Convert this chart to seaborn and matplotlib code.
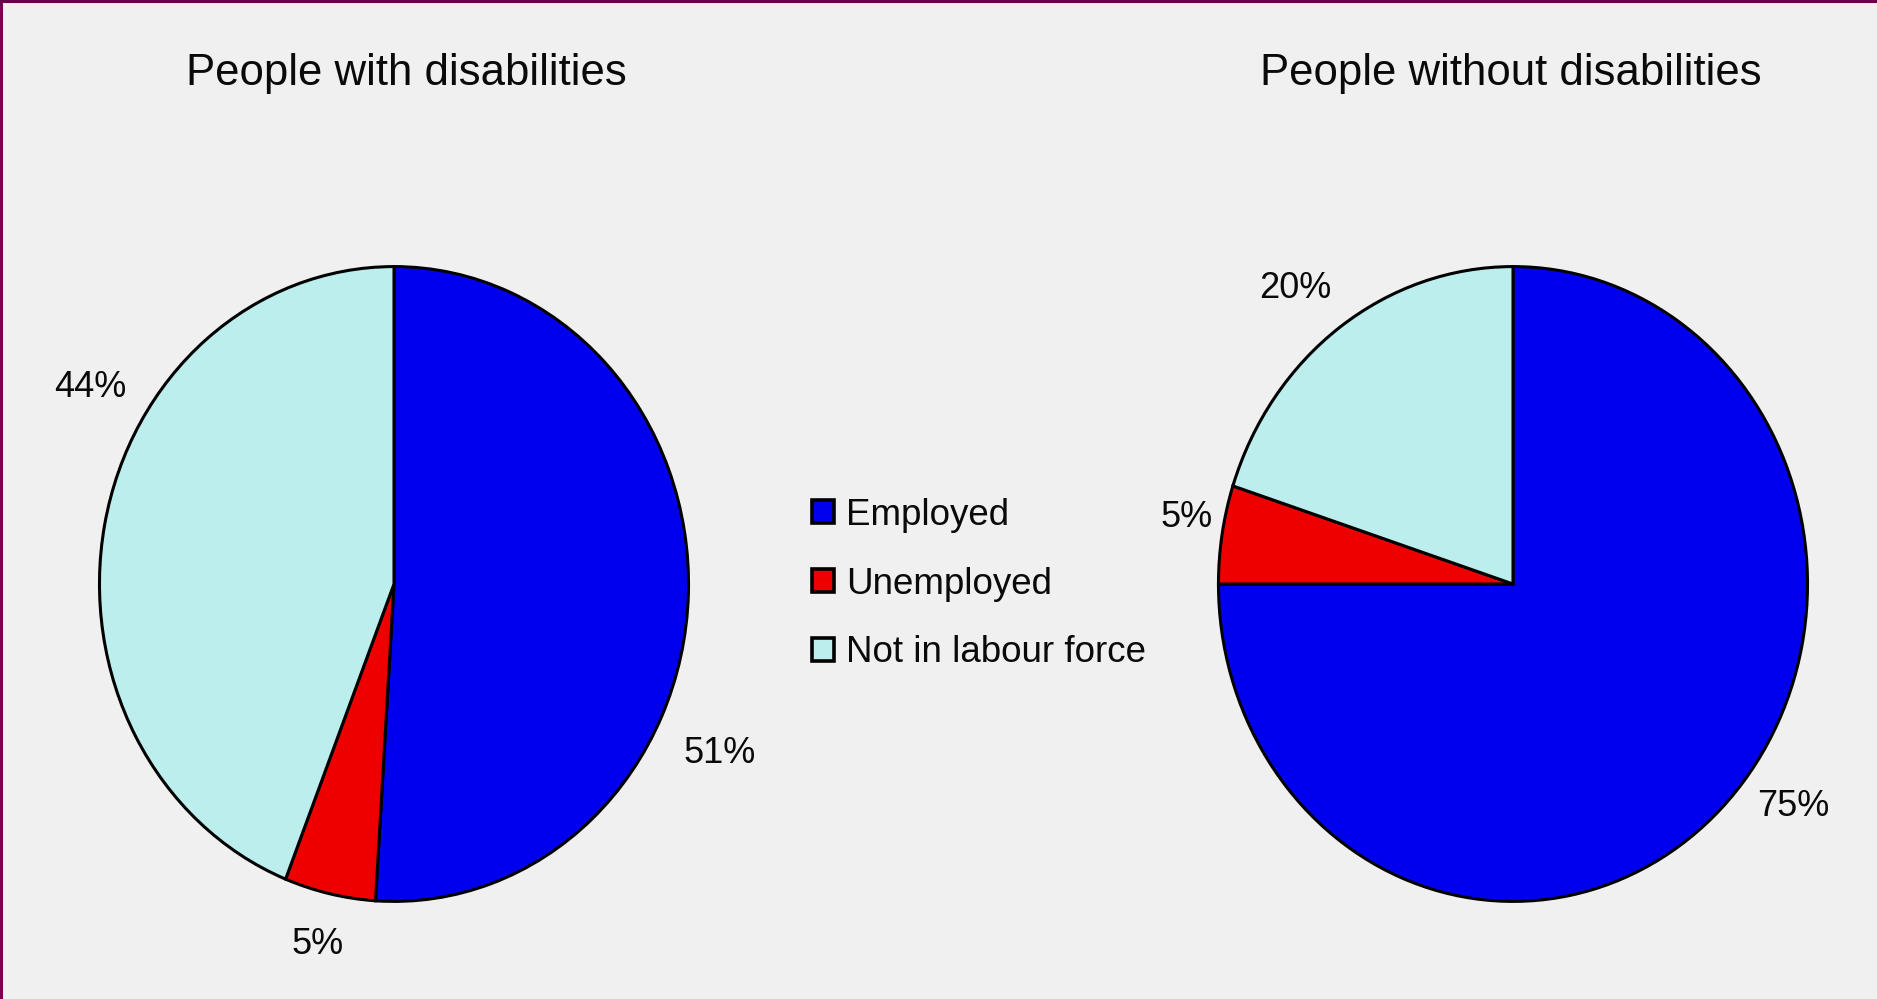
import matplotlib
matplotlib.use('Agg')
import matplotlib.pyplot as plt
import seaborn as sns
from matplotlib.patches import Patch
from matplotlib.lines import Line2D

# ── Data ────────────────────────────────────────────────────────────────
categories = ['Employed', 'Unemployed', 'Not in labour force']
groups = ['People with disabilities', 'People without disabilities']
with_disab = [51, 5, 44]
without_disab = [75, 5, 20]

colors = ['#0000EE', '#EE0000', '#BDEEEE']
bg = '#F0F0F0'

# label spots (in pie units) for each percentage
label_pos_left = [(1.105, -0.535), (-0.26, -1.135), (-1.03, 0.62)]
label_pos_right = [(0.95, -0.70), (-1.11, 0.21), (-0.74, 0.93)]

# ── Style ───────────────────────────────────────────────────────────────
sns.set_theme(style='white')
plt.rcParams['font.family'] = ['Liberation Sans', 'DejaVu Sans']
palette = sns.color_palette(colors)

W, H = 1877, 999
fig = plt.figure(figsize=(W / 100, H / 100), dpi=100, facecolor=bg)

def px_axes(x0, y0, x1, y1):
    # axes from pixel box (top-left origin)
    return fig.add_axes([x0 / W, 1 - y1 / H, (x1 - x0) / W, (y1 - y0) / H])

ax_left = px_axes(98, 265, 690, 903)
ax_right = px_axes(1217, 265, 1809, 903)

for ax, vals, pos in [(ax_left, with_disab, label_pos_left),
                      (ax_right, without_disab, label_pos_right)]:
    ax.pie(vals, colors=palette, startangle=90, counterclock=False,
           wedgeprops=dict(edgecolor='black', linewidth=2.2))
    ax.set_aspect('auto')
    ax.set_xlim(-1.005, 1.005)
    ax.set_ylim(-1.005, 1.005)
    ax.set_facecolor(bg)
    ax.axis('off')
    for v, (x, y) in zip(vals, pos):
        ax.text(x, y, f'{v}%', ha='center', va='center', fontsize=26,
                color='#0A0A0A', clip_on=False)

# titles
fig.text(406 / W, 1 - 74 / H, groups[0], ha='center', va='center',
         fontsize=31.5, color='#0A0A0A')
fig.text(1511 / W, 1 - 74 / H, groups[1], ha='center', va='center',
         fontsize=31.5, color='#0A0A0A')

# legend in the middle
handles = [Patch(facecolor=c, edgecolor='black', linewidth=2.6) for c in palette]
fig.legend(handles, categories, loc='center left',
           bbox_to_anchor=(812 / W, 1 - 584 / H), frameon=False,
           fontsize=26.5, handlelength=0.6, handleheight=0.6,
           handletextpad=0.33, labelspacing=0.92, borderpad=0,
           borderaxespad=0, labelcolor='#0A0A0A')

# thin dark border top and left
fig.add_artist(Line2D([0.0005, 0.0005], [0, 1], transform=fig.transFigure,
                      color='#7A0052', linewidth=2.2))
fig.add_artist(Line2D([0, 1], [0.9992, 0.9992], transform=fig.transFigure,
                      color='#6A0048', linewidth=2.2))

fig.savefig('out.png', dpi=100, facecolor=bg)
